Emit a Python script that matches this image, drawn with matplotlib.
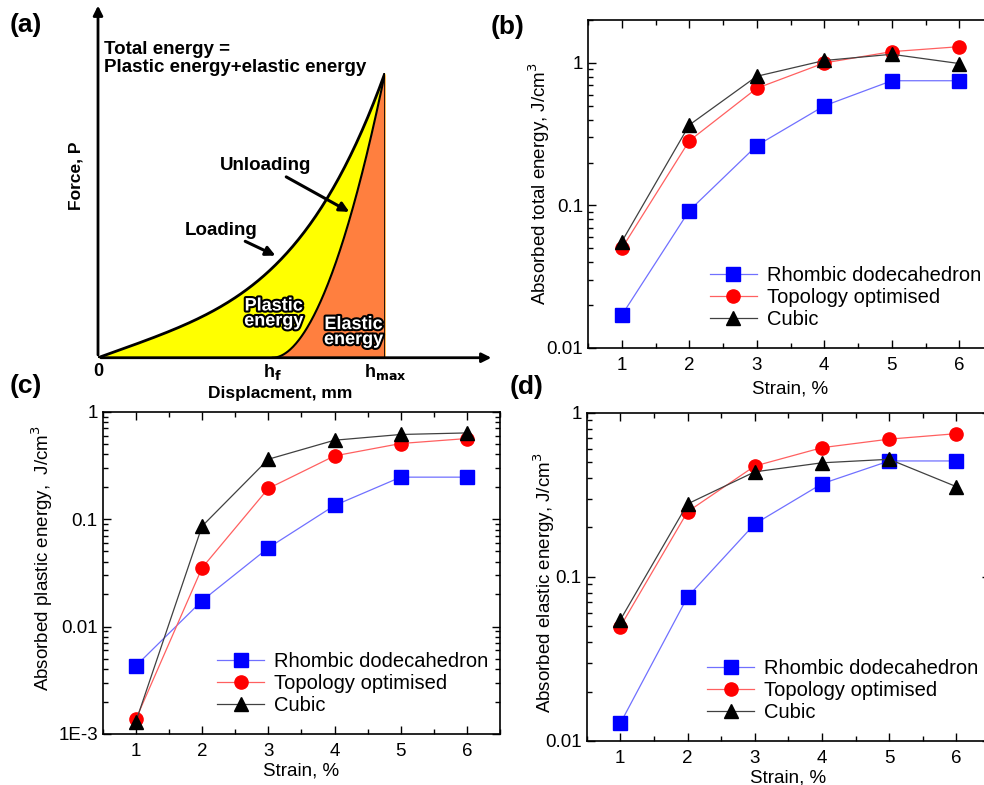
import matplotlib
matplotlib.use("Agg")
import matplotlib.pyplot as plt
import matplotlib.patheffects as pe
from matplotlib.ticker import FixedLocator, FixedFormatter, LogLocator, NullFormatter, MultipleLocator
import numpy as np

plt.rcParams['font.family'] = ['Liberation Sans', 'DejaVu Sans']

# strain levels (%)
strain = [1, 2, 3, 4, 5, 6]
series_names = ['Rhombic dodecahedron', 'Topology optimised', 'Cubic']

# (b) absorbed total energy, J/cm3
total_rd = [0.017, 0.092, 0.263, 0.50, 0.75, 0.75]
total_to = [0.050, 0.284, 0.664, 1.00, 1.20, 1.30]
total_cu = [0.0557, 0.367, 0.806, 1.04, 1.15, 0.99]

# (c) absorbed plastic energy, J/cm3
plastic_rd = [0.0043, 0.0174, 0.054, 0.134, 0.246, 0.246]
plastic_to = [0.00137, 0.0352, 0.193, 0.388, 0.506, 0.563]
plastic_cu = [0.0013, 0.086, 0.361, 0.543, 0.614, 0.635]

# (d) absorbed elastic energy, J/cm3
elastic_rd = [0.0128, 0.0753, 0.21, 0.369, 0.508, 0.508]
elastic_to = [0.0497, 0.249, 0.473, 0.612, 0.69, 0.745]
elastic_cu = [0.0546, 0.278, 0.436, 0.495, 0.52, 0.354]

# schematic in (a): normalised displacement / force
h_f = 0.609

fig = plt.figure(figsize=(9.84, 7.85), dpi=100)


def energy_panel(rect, ys, ylabel, ylim, yticks, yticklabels, ylab_xy, xlabelpad):
    ax = fig.add_axes(rect)
    styles = [('s', 'blue', '#7070ff'), ('o', 'red', '#ff6060'), ('^', 'black', '#404040')]
    for y, name, (mk, mc, lc) in zip(ys, series_names, styles):
        ax.plot(strain, y, color=lc, lw=0.9, marker=mk, ms=9.5, mfc=mc, mec=mc, label=name)
    ax.set_yscale('log')
    ax.set_xlim(0.5, 6.5)
    ax.set_ylim(*ylim)
    ax.xaxis.set_major_locator(FixedLocator(strain))
    ax.xaxis.set_minor_locator(MultipleLocator(0.5))
    ax.yaxis.set_major_locator(FixedLocator(yticks))
    ax.yaxis.set_major_formatter(FixedFormatter(yticklabels))
    ax.yaxis.set_minor_locator(LogLocator(base=10, subs=np.arange(2, 10)))
    ax.yaxis.set_minor_formatter(NullFormatter())
    ax.tick_params(which='both', direction='in', top=True, right=True, labelsize=13.5, width=1)
    ax.tick_params(which='major', length=6)
    ax.tick_params(which='minor', length=3.5)
    ax.tick_params(axis='x', which='major', pad=6.5)
    for s in ax.spines.values():
        s.set_linewidth(1.2)
    ax.set_xlabel('Strain, %', fontsize=13.5, labelpad=xlabelpad)
    ax.set_ylabel(ylabel, fontsize=13.5)
    ax.yaxis.set_label_coords(*ylab_xy)
    ax.legend(loc='lower right', bbox_to_anchor=(1.0, 0.02), frameon=False, fontsize=14.5,
              handlelength=2.3, handletextpad=0.5, labelspacing=0.15, borderaxespad=0.2)
    return ax


ax_b = energy_panel([0.5976, 0.5567, 0.4116, 0.4178], [total_rd, total_to, total_cu],
                    'Absorbed total energy, J/cm$^3$', (0.01, 2.0),
                    [0.01, 0.1, 1], ['0.01', '0.1', '1'], (-0.089, 0.5), 5)
ax_c = energy_panel([0.1044, 0.0650, 0.4038, 0.4105], [plastic_rd, plastic_to, plastic_cu],
                    'Absorbed plastic energy,  J/cm$^3$', (1e-3, 1.0),
                    [1e-3, 0.01, 0.1, 1], ['1E-3', '0.01', '0.1', '1'], (-0.120, 0.547), 1.5)
ax_d = energy_panel([0.5962, 0.0561, 0.4100, 0.4182], [elastic_rd, elastic_to, elastic_cu],
                    'Absorbed elastic energy, J/cm$^3$', (0.01, 1.0),
                    [0.01, 0.1, 1], ['0.01', '0.1', '1'], (-0.074, 0.483), 1.5)

# (a) schematic load-displacement curve
ax_a = fig.add_axes([0.0996, 0.5443, 0.2917, 0.3631])
ax_a.set_xlim(0, 1)
ax_a.set_ylim(0, 1)
ax_a.axis('off')

x_load = np.linspace(0, 1, 200)
y_load = 0.36 * x_load + 0.64 * x_load ** 3.8
x_unl = np.linspace(h_f, 1, 200)
y_unl = ((x_unl - h_f) / (1 - h_f)) ** 1.9

ax_a.fill_between(x_load, 0, y_load, color='#ffff00', lw=0)
ax_a.fill_between(x_unl, 0, y_unl, color='#ff7f3f', lw=0)
ax_a.plot(x_load, y_load, color='black', lw=2)
ax_a.plot(x_unl, y_unl, color='black', lw=1.5)
ax_a.plot([1, 1], [0, 1], color='black', lw=1.2)

ax_a.annotate('', xy=(0, 1.245), xytext=(0, 0), annotation_clip=False,
              arrowprops=dict(arrowstyle='-|>', color='black', lw=2, mutation_scale=14))
ax_a.annotate('', xy=(1.38, 0), xytext=(0, 0), annotation_clip=False,
              arrowprops=dict(arrowstyle='-|>', color='black', lw=2, mutation_scale=14))

bold = dict(fontweight='bold', fontsize=13.5)
ax_a.text(0.02, 1.05, 'Total energy =\nPlastic energy+elastic energy', ha='left', va='center',
          linespacing=1.1, **bold)
ax_a.annotate('Loading', xy=(0.627, 0.354), xytext=(0.43, 0.448), ha='center', va='center',
              arrowprops=dict(arrowstyle='-|>', color='black', lw=2.2, mutation_scale=14,
                              shrinkA=0), **bold)
ax_a.annotate('Unloading', xy=(0.884, 0.507), xytext=(0.585, 0.674), ha='center', va='center',
              arrowprops=dict(arrowstyle='-|>', color='black', lw=2.2, mutation_scale=14,
                              shrinkA=0), **bold)

outline = [pe.withStroke(linewidth=3, foreground='black')]
ax_a.text(0.612, 0.155, 'Plastic\nenergy', color='white', ha='center', va='center', linespacing=0.85,
          fontsize=13, fontweight='bold', path_effects=outline)
ax_a.text(0.89, 0.09, 'Elastic\nenergy', color='white', ha='center', va='center', linespacing=0.85,
          fontsize=13, fontweight='bold', path_effects=outline)

ax_a.text(0.0, -0.05, '0', ha='center', va='center', fontsize=13, fontweight='bold')
ax_a.text(h_f, -0.05, 'h$_{\\mathbf{f}}$', ha='center', va='center', fontsize=13, fontweight='bold')
ax_a.text(1.0, -0.05, 'h$_{\\mathbf{max}}$', ha='center', va='center', fontsize=13, fontweight='bold')
ax_a.text(0.635, -0.125, 'Displacment, mm', ha='center', va='center', fontsize=12.5, fontweight='bold')
ax_a.text(-0.077, 0.639, 'Force, P', ha='center', va='center', rotation=90, fontsize=12.5, fontweight='bold')

# panel letters
for lbl, (px, py) in zip(['(a)', '(b)', '(c)', '(d)'],
                         [(26, 25), (508, 27), (26, 386), (527, 387)]):
    fig.text(px / 984, 1 - py / 785, lbl, ha='center', va='center', fontsize=19, fontweight='bold')

fig.savefig('out.png', dpi=100)
